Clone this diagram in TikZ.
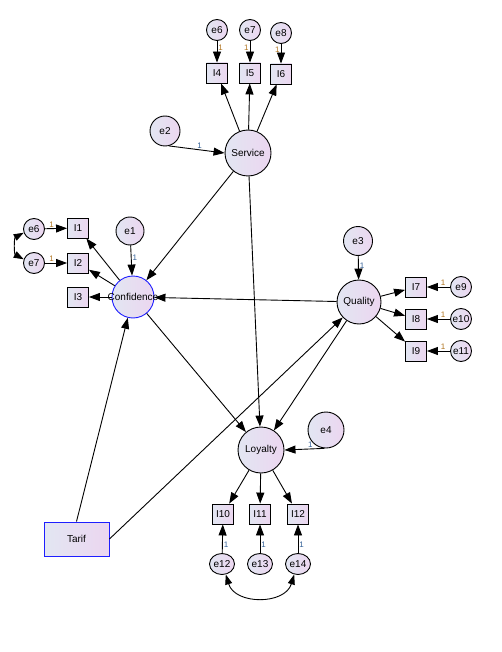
\documentclass[tikz,border=0pt]{standalone}
\usepackage{fontspec}
\setmainfont{Liberation Sans}
\usetikzlibrary{arrows.meta,shapes.geometric}
\definecolor{shadeL}{RGB}{226,230,242}
\definecolor{shadeR}{RGB}{236,214,240}
\definecolor{oneblue}{RGB}{50,95,150}
\definecolor{onebrown}{RGB}{175,115,30}
\definecolor{selblue}{RGB}{30,30,255}
\newcommand{\nowidth}[1]{\makebox[0pt]{#1}}

\begin{document}
\begin{tikzpicture}[
    x=1pt, y=1pt,
    latent/.style={
        draw,
        circle,
        line width=0.9pt,
        left color=shadeL,
        right color=shadeR,
        inner sep=0pt,
        minimum size=46pt,
        font=\fontsize{10}{11}\selectfont
    },
    err/.style={
        latent,
        minimum size=21pt
    },
    erroval/.style={
        latent,
        ellipse,
        minimum width=25pt,
        minimum height=21pt
    },
    obs/.style={
        draw,
        rectangle,
        line width=0.9pt,
        left color=shadeL,
        right color=shadeR,
        inner sep=0pt,
        minimum width=21pt,
        minimum height=20pt,
        font=\fontsize{10}{11}\selectfont
    },
    arrow/.style={
        -{Triangle[length=11pt,width=8pt]},
        line width=0.9pt
    },
    dbl/.style={
        {Triangle[length=10pt,width=7pt]}-{Triangle[length=10pt,width=7pt]},
        line width=0.9pt
    },
    one/.style={
        font=\fontsize{8}{8}\selectfont,
        inner sep=1pt
    }
]
\useasboundingbox (0,0) rectangle (501,-652);

% latent variables
\node[latent] (Serv) at (248,-153) {Service};
\node[latent, draw=selblue, minimum size=42pt] (Conf) at (133,-297) {\nowidth{Confidence}};
\node[latent, minimum size=44pt] (Qual) at (359,-302) {Quality};
\node[latent] (Loy) at (261,-450) {Loyalty};
\node[obs, draw=selblue, minimum width=65pt, minimum height=34pt] (Tarif) at (76.5,-539) {Tarif};

% disturbances
\node[latent, minimum size=28pt] (e1) at (130,-231) {e1};
\node[latent, minimum size=30pt] (e2) at (165,-131) {e2};
\node[latent, minimum size=29pt] (e3) at (358,-241) {e3};
\node[latent, minimum size=36pt] (e4) at (326,-430) {e4};

% Service indicators
\node[obs] (I4) at (217,-73) {I4};
\node[obs] (I5) at (250,-73) {I5};
\node[obs] (I6) at (281,-74) {I6};
\node[err] (e6a) at (217,-30) {e6};
\node[err] (e7a) at (250,-30) {e7};
\node[err] (e8a) at (281,-33) {e8};

% Confidence indicators
\node[obs] (I1) at (78,-228) {I1};
\node[obs] (I2) at (78,-263) {I2};
\node[obs] (I3) at (78,-297) {I3};
\node[err] (e6b) at (34,-229) {e6};
\node[err] (e7b) at (34,-263) {e7};

% Quality indicators
\node[obs] (I7) at (416,-287) {I7};
\node[obs] (I8) at (416,-319) {I8};
\node[obs] (I9) at (416,-351) {I9};
\node[err] (e9) at (461,-287) {e9};
\node[err] (e10) at (461,-319) {\nowidth{e10}};
\node[err] (e11) at (461,-351) {\nowidth{e11}};

% Loyalty indicators
\node[obs] (I10) at (223,-514) {I10};
\node[obs] (I11) at (260,-514) {I11};
\node[obs] (I12) at (298,-514) {I12};
\node[erroval] (e12) at (222,-564) {e12};
\node[erroval] (e13) at (260,-564) {e13};
\node[erroval] (e14) at (298,-564) {e14};

% structural paths
\draw[arrow] (Serv) -- (Conf);
\draw[arrow] (Serv) -- (Loy);
\draw[arrow] (Qual) -- (Conf);
\draw[arrow] (Conf) -- (Loy);
\draw[arrow] (Qual) -- (Loy);
\draw[arrow] (Tarif.north) -- (Conf);
\draw[arrow] (Tarif.east) -- (Qual);

% measurement paths
\foreach \i in {I4,I5,I6} \draw[arrow] (Serv) -- (\i);
\foreach \i in {I1,I2,I3} \draw[arrow] (Conf) -- (\i);
\foreach \i in {I7,I8,I9} \draw[arrow] (Qual) -- (\i);
\foreach \i in {I10,I11,I12} \draw[arrow] (Loy) -- (\i);

% error terms
\draw[arrow] (e2.-75) -- node[one, above, pos=0.55, text=oneblue] {1} (Serv.west);
\draw[arrow] (e1) -- node[one, right, pos=0.4, text=oneblue] {1} (Conf);
\draw[arrow] (e3) -- node[one, right, pos=0.4, text=oneblue] {1} (Qual);
\draw[arrow] (e4.-95) -- node[one, above, pos=0.35, text=oneblue] {1} (Loy.east);

\draw[arrow] (e6a) -- node[one, right, pos=0.3, text=onebrown] {1} (I4);
\draw[arrow] (e7a) -- node[one, left, pos=0.3, text=onebrown] {1} (I5);
\draw[arrow] (e8a) -- node[one, left, pos=0.3, text=onebrown] {1} (I6);
\draw[arrow] (e6b) -- node[one, above, pos=0.3, text=onebrown] {1} (I1);
\draw[arrow] (e7b) -- node[one, above, pos=0.3, text=onebrown] {1} (I2);
\draw[arrow] (e9) -- node[one, above, pos=0.3, text=onebrown] {1} (I7);
\draw[arrow] (e10) -- node[one, above, pos=0.3, text=onebrown] {1} (I8);
\draw[arrow] (e11) -- node[one, above, pos=0.3, text=onebrown] {1} (I9);
\draw[arrow] (e12) -- node[one, right, pos=0.3, text=oneblue] {1} (I10);
\draw[arrow] (e13) -- node[one, right, pos=0.3, text=oneblue] {1} (I11);
\draw[arrow] (e14) -- node[one, right, pos=0.3, text=oneblue] {1} (I12);

% covariances
\draw[dbl] (e6b.200) .. controls (14,-238) and (14,-254) .. (e7b.160);
\draw[dbl] (e12.-70) .. controls (235,-605) and (285,-605) .. (e14.-110);
\end{tikzpicture}
\end{document}
